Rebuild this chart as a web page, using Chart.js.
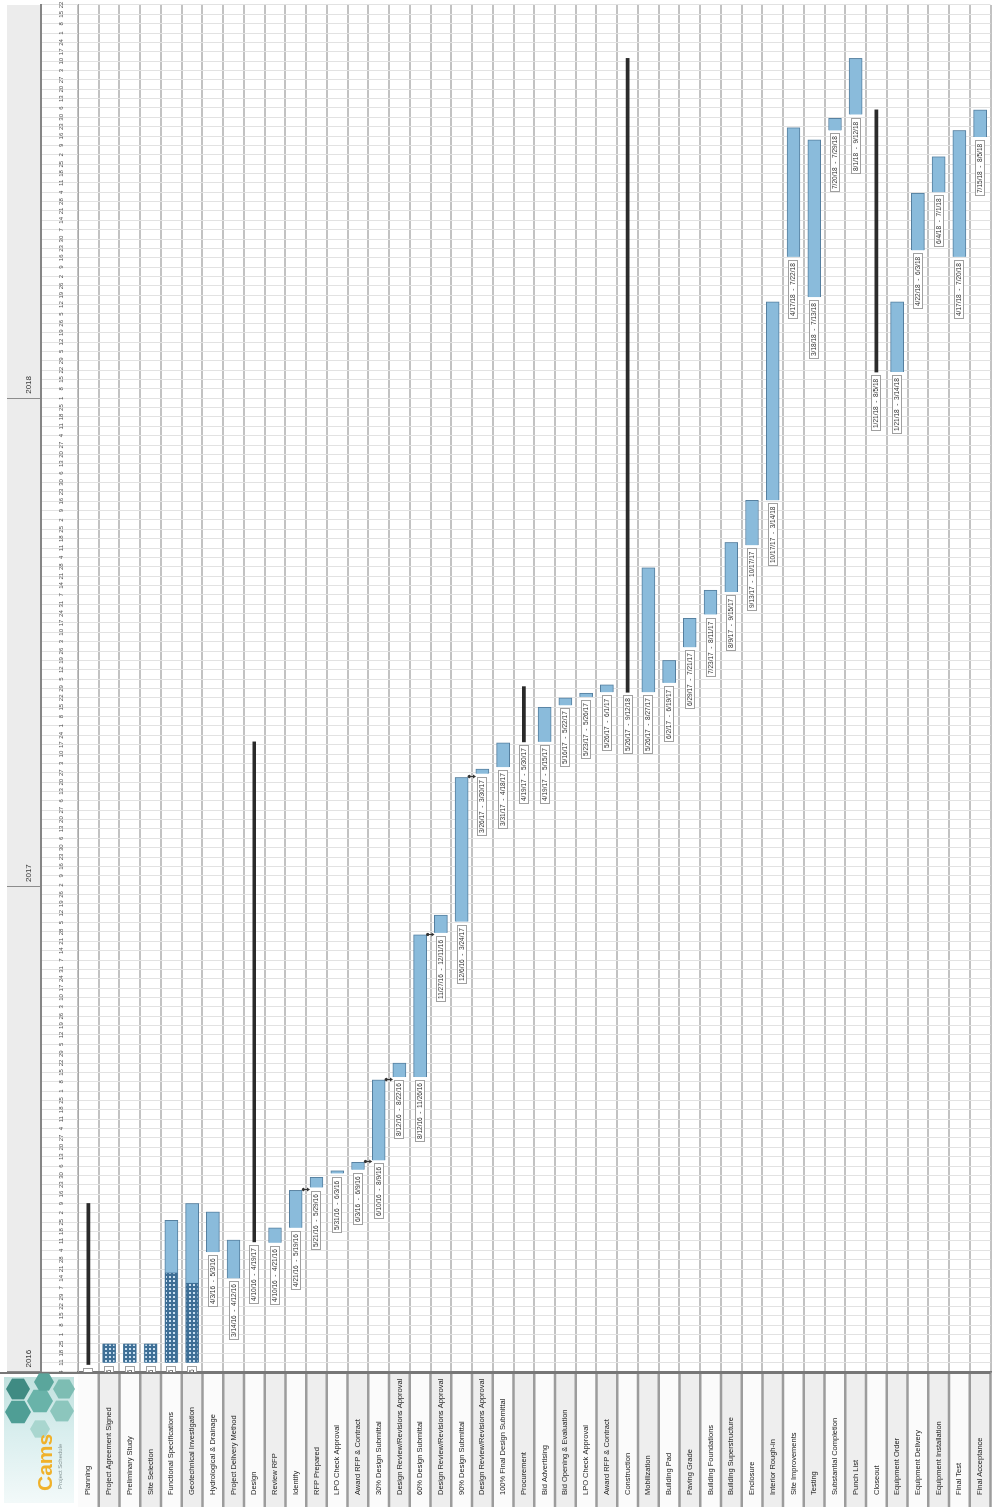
<!DOCTYPE html>
<html>
<head>
<meta charset="utf-8">
<script src="https://cdn.jsdelivr.net/npm/chart.js@4.4.1/dist/chart.umd.min.js"></script>
<style>
  html, body { margin: 0; padding: 0; background: #fff; overflow: hidden; width: 995px; height: 1507px; }
  /* the sheet is laid out landscape and turned a quarter to the left */
  #stage { position: absolute; left: 0; top: 0; width: 1507px; height: 995px;
           transform-origin: 0 0; transform: translateY(1507px) rotate(-90deg); }
</style>
</head>
<body>
<div id="stage"><canvas id="gantt" width="1507" height="995"></canvas></div>
<script>
// ------------------------------------------------------------
// Gantt — programme de projet (semaines depuis le 4 janv. 2016)
// ------------------------------------------------------------
const TASKS = [
  'Planning', 'Project Agreement Signed', 'Preliminary Study', 'Site Selection',
  'Functional Specifications', 'Geotechnical Investigation', 'Hydrological & Drainage',
  'Project Delivery Method', 'Design', 'Review RFP', 'Identify', 'RFP Prepared',
  'LPO Check Approval', 'Award RFP & Contract', '30% Design Submittal',
  'Design Review/Revisions Approval', '60% Design Submittal', 'Design Review/Revisions Approval',
  '90% Design Submittal', 'Design Review/Revisions Approval', '100% Final Design Submittal',
  'Procurement', 'Bid Advertising', 'Bid Opening & Evaluation', 'LPO Check Approval',
  'Award RFP & Contract', 'Construction', 'Mobilization', 'Building Pad', 'Paving Grade',
  'Building Foundations', 'Building Superstructure', 'Enclosure', 'Interior Rough-in',
  'Site Improvements', 'Testing', 'Substantial Completion', 'Punch List', 'Closeout',
  'Equipment Order', 'Equipment Delivery', 'Equipment Installation', 'Final Test', 'Final Acceptance'
];
const taskStart = [
  0.8, 1, 1, 1, 1, 1, 12.8, 10, 13.9, 13.8, 15.4, 19.7, 21.2, 21.6, 22.6, 31.5, 31.5, 46.9, 48.1, 63.9,
  64.6, 67.3, 67.3, 71.2, 72.1, 72.6, 72.6, 72.6, 73.6, 77.4, 80.9, 83.3, 88.3, 93.1, 119.1, 114.8,
  132.6, 134.3, 106.8, 106.8, 119.8, 126.0, 119.1, 131.9
];
const taskEnd = [
  18, 3, 3, 3, 16.2, 18, 17.1, 14.1, 67.3, 15.4, 19.4, 20.8, 21.5, 22.4, 31.2, 33.0, 46.7, 48.8, 63.5, 64.4,
  67.2, 73.2, 71.0, 72.0, 72.5, 73.4, 140.3, 85.9, 76.0, 80.5, 83.5, 88.6, 93.1, 114.3, 132.9, 131.6,
  133.9, 140.3, 134.8, 114.3, 125.9, 129.8, 132.6, 134.8
];
const progressEnd = [null, 3, 3, 3, 10.6, 9.5];   // avancement (hachuré) des premières tâches
const summaryRows = [0, 8, 21, 26, 38];
const links = [[10, 11], [13, 14], [14, 15], [16, 17], [18, 19]];
const yearTicks  = [0, 51.86, 104];
const yearLabels = ['2016', '2017', '2018'];
const WEEKS = 146;
const BASE  = new Date(2016, 0, 4);

const FONT = '"Liberation Sans", Arial, sans-serif';
Chart.defaults.font.family = FONT;

const isSum  = i => summaryRows.includes(i);
const dateAt = w => { const d = new Date(BASE); d.setDate(d.getDate() + Math.round(w * 7)); return d; };
const fmt    = w => { const d = dateAt(w); return (d.getMonth() + 1) + '/' + d.getDate() + '/' + String(d.getFullYear()).slice(2); };

function dotted() {
  const c = document.createElement('canvas'); c.width = 4; c.height = 4;
  const g = c.getContext('2d');
  g.fillStyle = '#3e6f96'; g.fillRect(0, 0, 4, 4);
  g.fillStyle = '#c9dff0'; g.fillRect(1, 1, 2, 2);
  return g.createPattern(c, 'repeat');
}

function hex(ctx, cx, cy, r) {
  ctx.beginPath();
  for (let k = 0; k < 6; k++) {
    const a = Math.PI / 3 * k + Math.PI / 6;
    ctx.lineTo(cx + r * Math.cos(a), cy + r * Math.sin(a));
  }
  ctx.closePath(); ctx.fill();
}

const sheet = {
  id: 'sheet',
  beforeDraw(chart) {
    const { ctx, chartArea: a, scales: { y } } = chart;
    const h = (a.bottom - a.top) / TASKS.length;
    ctx.save();
    TASKS.forEach((_, i) => {
      ctx.fillStyle = i % 2 ? '#eeeeee' : '#fbfbfb';
      ctx.fillRect(0, y.getPixelForValue(i) - h / 2, a.left, h);
    });
    ctx.fillStyle = '#ececec';
    ctx.fillRect(a.left, 7, a.right - a.left, 34);
    ctx.restore();
  },
  afterDatasetsDraw(chart) {
    const { ctx, chartArea: a, scales: { x, y } } = chart;
    ctx.save();
    ctx.beginPath(); ctx.rect(a.left, a.top, a.right - a.left, a.bottom - a.top); ctx.clip();
    // dépendances
    ctx.strokeStyle = '#333'; ctx.fillStyle = '#333'; ctx.lineWidth = 1;
    links.forEach(([p, s]) => {
      const xe = Math.round(x.getPixelForValue(taskEnd[p])) + 0.5;
      const y1 = y.getPixelForValue(p) + 7.5, y2 = y.getPixelForValue(s) - 6.5;
      ctx.beginPath(); ctx.arc(xe, y1, 1.6, 0, Math.PI * 2); ctx.fill();
      ctx.beginPath(); ctx.moveTo(xe, y1); ctx.lineTo(xe, y2 - 2); ctx.stroke();
      ctx.beginPath(); ctx.moveTo(xe - 2, y2 - 3); ctx.lineTo(xe + 2, y2 - 3); ctx.lineTo(xe, y2); ctx.closePath(); ctx.fill();
    });
    // étiquettes de dates
    ctx.font = '6.5px ' + FONT;
    ctx.textBaseline = 'middle'; ctx.textAlign = 'left';
    TASKS.forEach((_, i) => {
      const xs = x.getPixelForValue(taskStart[i]);
      const yc = Math.round(y.getPixelForValue(i));
      const t  = fmt(taskStart[i]) + '  -  ' + fmt(taskEnd[i]);
      const w  = Math.ceil(ctx.measureText(t).width) + 6;
      const bx = Math.round(xs - 3 - w);
      ctx.fillStyle = '#fff'; ctx.fillRect(bx, yc - 5, w, 10);
      ctx.strokeStyle = '#a0a0a0'; ctx.strokeRect(bx + 0.5, yc - 4.5, w - 1, 9);
      ctx.fillStyle = '#333'; ctx.fillText(t, bx + 3, yc + 0.5);
    });
    ctx.restore();
  },
  afterDraw(chart) {
    const { ctx, chartArea: a, scales: { y } } = chart;
    const h = (a.bottom - a.top) / TASKS.length;
    ctx.save();
    ctx.strokeStyle = '#9c9c9c'; ctx.lineWidth = 2.5;
    TASKS.forEach((_, i) => {
      const yy = y.getPixelForValue(i) + h / 2;
      ctx.beginPath(); ctx.moveTo(0, yy); ctx.lineTo(a.left, yy); ctx.stroke();
    });
    ctx.strokeStyle = '#777'; ctx.lineWidth = 2;
    ctx.beginPath(); ctx.moveTo(a.left - 1, 0); ctx.lineTo(a.left - 1, a.bottom); ctx.stroke();
    // logo
    const g = ctx.createLinearGradient(0, 0, a.left, 0);
    g.addColorStop(0, '#f4fafa'); g.addColorStop(0.55, '#d9eeee'); g.addColorStop(1, '#bfe0dd');
    ctx.fillStyle = g; ctx.fillRect(4, 4, a.left - 9, a.top - 8);
    [[95, 18, 13, '#4f9e95'], [118, 18, 12, '#3f8b83'], [106, 40, 13, '#69b3a9'], [125, 44, 10, '#5aa69c'],
     [96, 62, 12, '#8cc6bd'], [118, 64, 11, '#7dbdb3'], [78, 40, 10, '#a9d6cf']].forEach(([cx, cy, r, c]) => {
      ctx.fillStyle = c; hex(ctx, cx, cy, r);
    });
    ctx.font = 'bold 21px ' + FONT; ctx.textBaseline = 'alphabetic';
    ctx.fillStyle = '#f0b12a'; ctx.fillText('Cams', 16, 52);
    ctx.font = '6px ' + FONT; ctx.fillStyle = '#8a9a9a'; ctx.fillText('Project Schedule', 18, 62);
    ctx.restore();
  }
};

const rows = TASKS.map((_, i) => i);
new Chart(document.getElementById('gantt'), {
  type: 'bar',
  data: {
    labels: TASKS,
    datasets: [
      { label: 'Avancement', order: 0, data: rows.map(i => progressEnd[i] != null ? [taskStart[i], progressEnd[i]] : null),
        backgroundColor: dotted(), borderColor: '#3e6f96', borderWidth: 1, barThickness: 12, grouped: false },
      { label: 'Tâche', order: 1, data: rows.map(i => isSum(i) ? null : [taskStart[i], taskEnd[i]]),
        backgroundColor: '#8abbdb', borderColor: '#557f9f', borderWidth: 1, barThickness: 13, grouped: false },
      { label: 'Phase', order: 2, data: rows.map(i => isSum(i) ? [taskStart[i], taskEnd[i]] : null),
        backgroundColor: '#2a2a2a', borderWidth: 0, barThickness: 3, grouped: false },
    ]
  },
  options: {
    indexAxis: 'y',
    responsive: false,
    animation: false,
    devicePixelRatio: 1,
    layout: { padding: { left: 12, top: 7, right: 5, bottom: 0 } },
    plugins: { legend: { display: false }, tooltip: { enabled: false } },
    scales: {
      y: {
        type: 'category',
        afterFit: s => { s.width = 123; },
        grid: { offset: true, color: '#c2c2c2', lineWidth: 2, drawTicks: false },
        border: { color: '#777', width: 2 },
        ticks: { crossAlign: 'far', autoSkip: false, color: '#222', font: { size: 7.5 }, padding: 0 },
      },
      x: {
        type: 'linear', position: 'top', min: 0, max: WEEKS, weight: 0,
        afterFit: s => { s.height = 37; },
        afterBuildTicks: s => { s.ticks = Array.from({ length: WEEKS + 1 }, (_, i) => ({ value: i })); },
        grid: { color: '#e2e2e2', lineWidth: 1, tickLength: 37 },
        border: { color: '#a8a8a8', width: 1 },
        ticks: { autoSkip: false, maxRotation: 0, color: '#555', font: { size: 6 }, padding: -24,
                 callback: v => String(dateAt(v).getDate()) },
      },
      xYear: {
        type: 'linear', position: 'top', min: 0, max: WEEKS, weight: 1,
        afterFit: s => { s.height = 34; },
        afterBuildTicks: s => { s.ticks = yearTicks.map(v => ({ value: v })); },
        grid: { drawOnChartArea: false, color: '#8c8c8c', lineWidth: 1, tickLength: 34 },
        border: { color: '#858585', width: 2 },
        ticks: { autoSkip: false, maxRotation: 0, align: 'start', color: '#333', font: { size: 8 }, padding: -27,
                 callback: (v, i) => '  ' + yearLabels[i] },
      },
    },
  },
  plugins: [sheet],
});
</script>
</body>
</html>
